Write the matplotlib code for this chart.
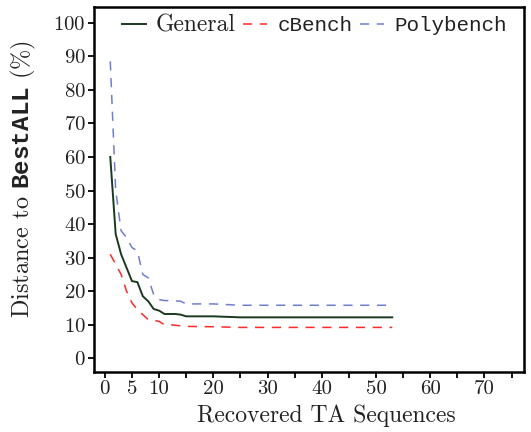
import matplotlib
matplotlib.use("Agg")
import matplotlib.pyplot as plt

plt.rcParams['font.family'] = 'serif'
plt.rcParams['font.serif'] = ['cmr10']
plt.rcParams['axes.formatter.use_mathtext'] = True
plt.rcParams['mathtext.fontset'] = 'custom'
plt.rcParams['mathtext.rm'] = 'cmr10'
plt.rcParams['mathtext.tt'] = 'Liberation Mono:bold'

# Data
gen_x = [1, 2, 3, 4, 5, 6, 7, 8, 9, 10, 11, 12, 13, 14, 15, 20, 25, 30, 40, 53]
gen_y = [60, 37, 31, 27, 23, 22.7, 18.5, 17, 14.7, 14.2, 13.2, 13.2, 13.2, 13.0, 12.5, 12.5, 12.2, 12.2, 12.2, 12.2]

cb_x = [1, 2, 3, 4, 5, 6, 7, 8, 9, 10, 11, 12, 15, 20, 25, 30, 40, 53]
cb_y = [31, 28, 25, 20, 16.5, 14.5, 13, 11.5, 11.3, 11.0, 10.0, 10.0, 9.5, 9.4, 9.2, 9.2, 9.2, 9.2]

pb_x = [1, 2, 3, 4, 5, 6, 7, 8, 9, 10, 11, 12, 14, 15, 20, 25, 30, 40, 53]
pb_y = [88.5, 50, 38, 36, 33, 32, 25, 24, 19, 17.5, 17.2, 17.2, 17.0, 16.2, 16.2, 15.8, 15.8, 15.8, 15.8]

xtick_vals = [0, 5, 10, 15, 20, 25, 30, 35, 40, 45, 50, 55, 60, 65, 70, 75]
xtick_labels = ['0', '5', '10', '', '20', '', '30', '', '40', '', '50', '', '60', '', '70', '']
ytick_vals = [0, 10, 20, 30, 40, 50, 60, 70, 80, 90, 100]

fig = plt.figure(figsize=(5.31, 4.32), dpi=100)
ax = fig.add_axes([94/531, (432-371.7)/432, 430/531, 364.4/432])

ax.plot(gen_x, gen_y, color='#1a3a1f', lw=1.4, label='General')
ax.plot(cb_x, cb_y, color='#ff2a2a', lw=1.1, ls=(0, (6, 5)), label='cBench')
ax.plot(pb_x, pb_y, color='#6f7fcf', lw=1.1, ls=(0, (6, 5)), label='Polybench')

ax.set_xlim(-2, 77.3)
ax.set_ylim(-4, 104.6)
ax.set_xticks(xtick_vals)
ax.set_xticklabels(xtick_labels)
ax.set_yticks(ytick_vals)
ax.tick_params(axis='both', labelsize=15, width=1.3, length=4.5, direction='out', pad=1.5,
               labelcolor='#222222')
for s in ax.spines.values():
    s.set_linewidth(1.8)

ax.set_xlabel('Recovered TA Sequences', fontsize=17, color='#222222')
ax.xaxis.set_label_coords(0.54, -0.09)
ax.set_ylabel(r'Distance to $\mathtt{BestALL}$ (%)', fontsize=17.5, color='#222222')
ax.yaxis.set_label_coords(-0.131, 0.53)

leg = ax.legend(loc='upper left', bbox_to_anchor=((121.7 - 94) / 430, 0.981), ncol=3,
                frameon=False, fontsize=15, handlelength=1.15, handletextpad=0.5,
                columnspacing=0.35, borderpad=0, borderaxespad=0)
texts = leg.get_texts()
for t in texts:
    t.set_color('#222222')
texts[0].set_fontsize(17)
for t in texts[1:]:
    t.set_family('Liberation Mono')

fig.savefig('out.png', dpi=100)
